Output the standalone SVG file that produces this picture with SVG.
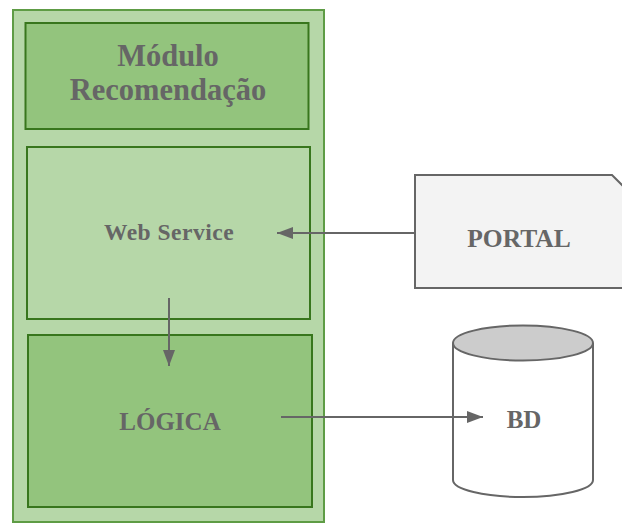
<svg xmlns="http://www.w3.org/2000/svg" width="622" height="525" viewBox="0 0 622 525">
<style>
.t{font-family:"Liberation Serif","Times New Roman",serif;font-weight:bold;fill:#666666;text-anchor:middle}
.conn{stroke:#666666;stroke-width:2;fill:none}
</style>
<defs>
<marker id="ah" markerWidth="16" markerHeight="12" refX="16" refY="6" orient="auto" markerUnits="userSpaceOnUse" viewBox="0 0 16 12">
<path d="M0,0 L16,6 L0,12 Z" fill="#666666"/>
</marker>
</defs>
<rect width="622" height="525" fill="#ffffff"/>
<g id="modulo">
<rect x="13" y="10" width="311" height="512" fill="#b6d7a8" stroke="#5e9c45" stroke-width="2"/>
</g>
<g id="titulo">
<rect x="25.5" y="23" width="283" height="106" fill="#93c47d" stroke="#38761d" stroke-width="2"/>
<text class="t" x="168" y="66" font-size="30.5">Módulo</text>
<text class="t" x="168" y="100" font-size="30.5">Recomendação</text>
</g>
<g id="webservice">
<rect x="27" y="147" width="283" height="172" fill="#b6d7a8" stroke="#38761d" stroke-width="2"/>
<text class="t" x="169" y="240" font-size="23.5" letter-spacing="0.5">Web Service</text>
</g>
<g id="logica">
<rect x="28" y="335" width="284" height="172" fill="#93c47d" stroke="#38761d" stroke-width="2"/>
<text class="t" x="170" y="430" font-size="25">LÓGICA</text>
</g>
<g id="portal">
<path d="M415,175 L612,175 L632,195 L632,288 L415,288 Z" fill="#f3f3f3" stroke="#666666" stroke-width="2"/>
<text class="t" x="519" y="247" font-size="25.5">PORTAL</text>
</g>
<g id="bd">
<path d="M453,343 L453,480 A70,17 0 0 0 593,480 L593,343" fill="#ffffff" stroke="#666666" stroke-width="2"/>
<ellipse cx="523" cy="343" rx="70" ry="17.5" fill="#cccccc" stroke="#666666" stroke-width="2"/>
<text class="t" x="524" y="428" font-size="25">BD</text>
</g>
<g id="connectors">
<line class="conn" x1="415" y1="233" x2="277" y2="233" marker-end="url(#ah)"/>
<line class="conn" x1="169" y1="298" x2="169" y2="366" marker-end="url(#ah)"/>
<line class="conn" x1="281" y1="417" x2="483" y2="417" marker-end="url(#ah)"/>
</g>
</svg>
